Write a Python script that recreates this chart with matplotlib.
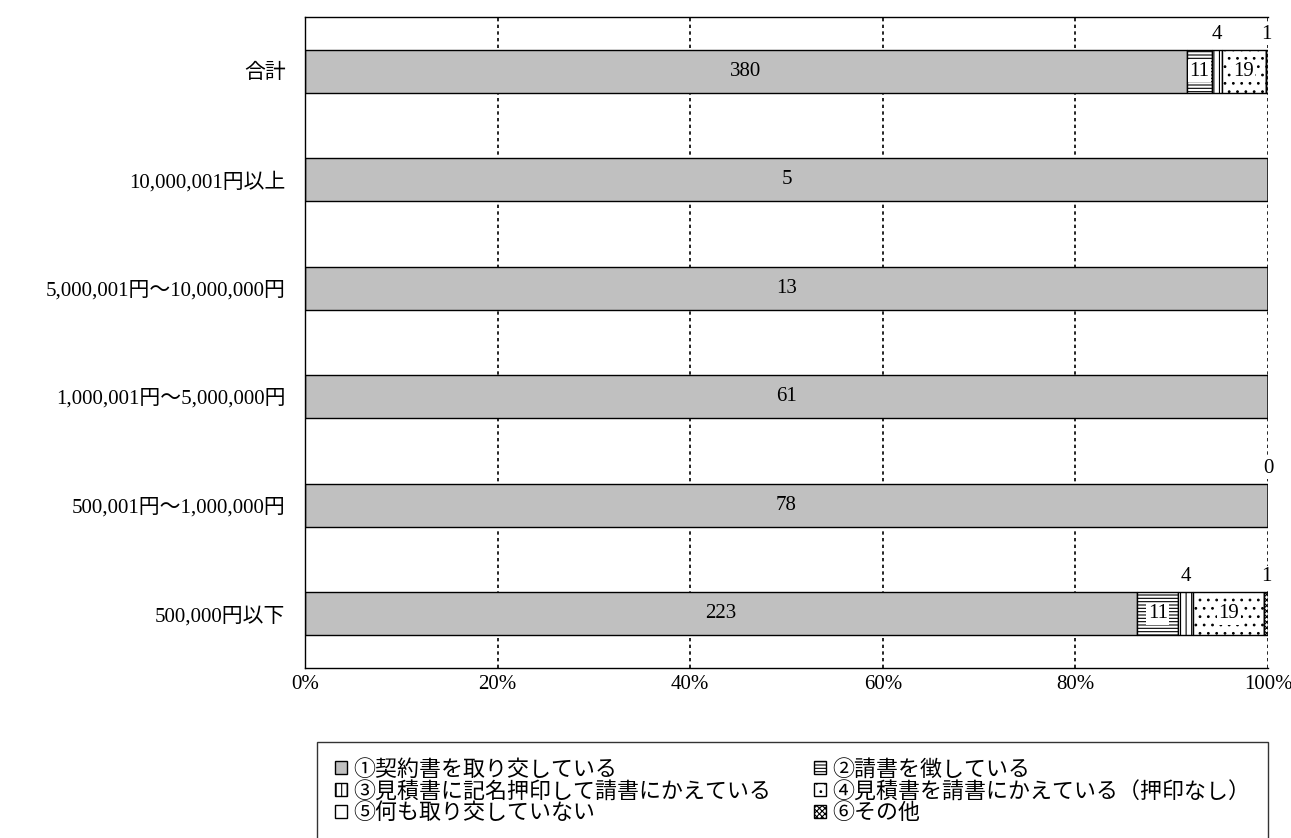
import numpy as np
import matplotlib
matplotlib.use('Agg')
import matplotlib.pyplot as plt
from matplotlib.patches import Patch

plt.rcParams['font.family'] = ['Liberation Serif', 'Noto Sans CJK JP']
plt.rcParams['hatch.linewidth'] = 0.8

categories = ['合計', '10,000,001円以上', '5,000,001円～10,000,000円',
              '1,000,001円～5,000,000円', '500,001円～1,000,000円', '500,000円以下']
series_names = ['①契約書を取り交している', '②請書を徴している',
                '③見積書に記名押印して請書にかえている', '④見積書を請書にかえている（押印なし）',
                '⑤何も取り交していない', '⑥その他']
s1 = [380, 5, 13, 61, 78, 223]
s2 = [11, 0, 0, 0, 0, 11]
s3 = [4, 0, 0, 0, 0, 4]
s4 = [19, 0, 0, 0, 0, 19]
s5 = [0, 0, 0, 0, 0, 0]
s6 = [1, 0, 0, 0, 0, 1]
# zero values that still carry a label in the original (row, series)
zero_labels = [(4, 5)]

data = np.array([s1, s2, s3, s4, s5, s6], dtype=float)
totals = data.sum(axis=0)
pct = data / totals * 100

facecolors = ['#c0c0c0', 'white', 'white', 'white', 'white', 'white']
hatches = [None, '-----', '|||', '..', None, 'xxxxxx']
label_mode = ['in', 'box', 'above', 'box', 'above', 'above']

fs = 15

fig = plt.figure(figsize=(12.91, 8.38), dpi=100)
ax = fig.add_axes([305/1291, 1-668/838, (1268-305)/1291, (668-17)/838])

y = np.arange(len(categories))
h = 0.4
left = np.zeros(len(categories))
for i in range(len(data)):
    ax.barh(y, pct[i], left=left, height=h, color=facecolors[i], edgecolor='black',
            hatch=hatches[i], linewidth=1, zorder=2)
    for r in range(len(categories)):
        v = int(data[i, r])
        if v == 0 and (r, i) not in zero_labels:
            continue
        cx = left[r] + pct[i, r] / 2
        if label_mode[i] == 'in':
            ax.text(cx, y[r], str(v), ha='center', va='center', fontsize=fs, zorder=4)
        elif label_mode[i] == 'box':
            ax.text(cx, y[r], str(v), ha='center', va='center', fontsize=fs, zorder=4,
                    bbox=dict(facecolor='white', edgecolor='none', pad=1))
        else:
            ax.annotate(str(v), xy=(cx, y[r] - h/2), xytext=(0, 4), textcoords='offset points',
                        ha='center', va='bottom', fontsize=fs, zorder=4, annotation_clip=False,
                        bbox=dict(facecolor='white', edgecolor='none', pad=1))
    left += pct[i]

ax.set_xlim(0, 100)
ax.set_ylim(len(categories) - 0.5, -0.5)
ax.set_yticks(y)
ax.set_yticklabels(categories, fontsize=fs)
ax.set_xticks(np.arange(0, 101, 20))
ax.set_xticklabels([f'{t}%' for t in range(0, 101, 20)], fontsize=fs)
ax.tick_params(axis='y', length=0, pad=14)
ax.tick_params(axis='x', length=0, pad=5)
for xv in range(20, 101, 20):
    ax.axvline(xv, color='black', linestyle=(0, (2, 2)), linewidth=1.2, zorder=1.5)
ax.spines['right'].set_visible(False)
for s in ['top', 'left', 'bottom']:
    ax.spines[s].set_linewidth(1)

handles = [Patch(facecolor=facecolors[i], edgecolor='black', hatch=hatches[i], label=series_names[i])
           for i in range(len(series_names))]
order = [0, 2, 4, 1, 3, 5]
leg = fig.legend([handles[i] for i in order], [series_names[i] for i in order],
                 loc='upper left', bbox_to_anchor=(317/1291, 1-742/838, (1268-317)/1291, 0.0),
                 mode='expand', ncol=2, fontsize=15.8, frameon=True, fancybox=False,
                 edgecolor='black', handlelength=0.55, handleheight=0.55, handletextpad=0.3,
                 labelspacing=0.05, borderpad=0.8, borderaxespad=0)
leg.get_frame().set_linewidth(1)

fig.savefig('out.png', dpi=100)
